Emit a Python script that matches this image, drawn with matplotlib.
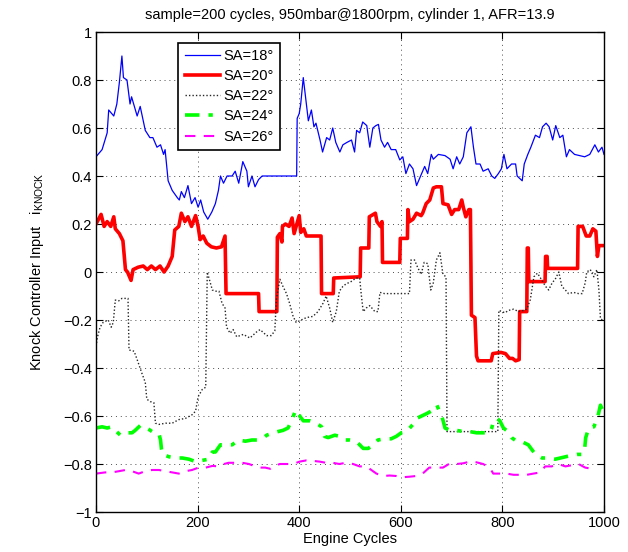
import matplotlib
matplotlib.use("Agg")
import matplotlib.pyplot as plt

plt.rcParams['font.family'] = ['Liberation Sans', 'DejaVu Sans']
plt.rcParams['mathtext.default'] = 'regular'

# ---- data -------------------------------------------------------------
sa18_x = [0, 12, 22, 25, 35, 41, 46, 51, 54, 61, 67, 70, 81, 87, 97, 106, 112, 120, 127, 133,
          136, 142, 150, 160, 164, 168, 174, 181, 188, 195, 201, 206, 212, 220, 228, 235, 241,
          245, 251, 258, 268, 274, 281, 289, 297, 300, 307, 313, 320, 327, 395, 396, 400, 403,
          408, 413, 418, 424, 429, 433, 441, 446, 454, 460, 466, 472, 480, 486, 494, 503, 509,
          513, 519, 525, 533, 539, 545, 551, 556, 561, 568, 574, 581, 590, 598, 604, 610, 617,
          624, 631, 637, 647, 653, 660, 664, 674, 687, 697, 703, 710, 716, 723, 730, 738, 743,
          748, 756, 762, 772, 779, 785, 792, 798, 803, 809, 818, 826, 829, 839, 843, 850, 856,
          865, 873, 879, 886, 892, 899, 905, 913, 919, 926, 932, 942, 952, 962, 972, 982, 989,
          996, 1000]
sa18_y = [0.48, 0.51, 0.58, 0.675, 0.65, 0.70, 0.79, 0.90, 0.81, 0.80, 0.70, 0.73, 0.65, 0.69,
          0.59, 0.56, 0.56, 0.52, 0.53, 0.49, 0.51, 0.38, 0.34, 0.31, 0.30, 0.335, 0.31, 0.36,
          0.285, 0.31, 0.27, 0.30, 0.25, 0.22, 0.25, 0.285, 0.34, 0.40, 0.37, 0.40, 0.40, 0.42,
          0.37, 0.46, 0.42, 0.355, 0.40, 0.355, 0.385, 0.40, 0.40, 0.64, 0.66, 0.70, 0.81, 0.72,
          0.63, 0.675, 0.605, 0.62, 0.55, 0.50, 0.56, 0.55, 0.60, 0.54, 0.50, 0.53, 0.54, 0.55,
          0.50, 0.59, 0.58, 0.625, 0.61, 0.52, 0.60, 0.61, 0.615, 0.55, 0.52, 0.54, 0.51, 0.51,
          0.467, 0.48, 0.41, 0.45, 0.43, 0.36, 0.39, 0.44, 0.41, 0.49, 0.47, 0.49, 0.485, 0.47,
          0.43, 0.48, 0.45, 0.48, 0.58, 0.605, 0.52, 0.45, 0.45, 0.42, 0.43, 0.40, 0.39, 0.41,
          0.43, 0.49, 0.43, 0.45, 0.45, 0.40, 0.38, 0.45, 0.49, 0.52, 0.57, 0.56, 0.605, 0.62,
          0.605, 0.55, 0.61, 0.56, 0.57, 0.48, 0.51, 0.49, 0.485, 0.48, 0.49, 0.53, 0.50, 0.52,
          0.49]

sa20_x = [0, 10, 16, 22, 29, 35, 38, 46, 53, 58, 62, 69, 73, 83, 93, 101, 109, 117, 126, 134,
          142, 150, 155, 163, 168, 175, 181, 188, 196, 201, 205, 211, 218, 227, 237, 247, 254,
          256, 320, 321, 356, 357, 362, 366, 367, 373, 380, 386, 390, 400, 403, 409, 414, 443,
          444, 467, 468, 520, 521, 537, 538, 550, 553, 560, 563, 564, 598, 599, 613, 614, 617,
          624, 631, 640, 643, 650, 657, 664, 670, 680, 683, 693, 700, 706, 714, 720, 723, 728,
          734, 737, 739, 746, 749, 752, 778, 781, 797, 806, 814, 820, 826, 833, 834, 848, 849,
          851, 852, 884, 885, 888, 889, 948, 949, 958, 965, 972, 978, 984, 987, 990, 1000]
sa20_y = [0.20, 0.24, 0.19, 0.21, 0.19, 0.23, 0.18, 0.16, 0.13, 0.01, 0.0, -0.035, 0.01, 0.02,
          0.025, 0.01, 0.025, 0.01, 0.025, 0.0, 0.025, 0.065, 0.175, 0.19, 0.245, 0.21, 0.23,
          0.19, 0.235, 0.19, 0.135, 0.15, 0.12, 0.105, 0.10, 0.105, 0.15, -0.09, -0.09, -0.165,
          -0.165, 0.145, 0.16, 0.125, 0.19, 0.20, 0.19, 0.225, 0.16, 0.235, 0.165, 0.18, 0.15,
          0.15, -0.09, -0.09, -0.025, -0.02, 0.10, 0.10, 0.23, 0.245, 0.21, 0.19, 0.21, 0.04,
          0.04, 0.14, 0.14, 0.26, 0.21, 0.22, 0.245, 0.235, 0.245, 0.285, 0.30, 0.35, 0.355,
          0.355, 0.285, 0.28, 0.24, 0.26, 0.26, 0.30, 0.27, 0.23, 0.26, 0.26, -0.18, -0.19,
          -0.35, -0.37, -0.37, -0.34, -0.335, -0.34, -0.36, -0.36, -0.37, -0.365, -0.165,
          -0.165, 0.10, 0.10, -0.04, -0.04, 0.065, 0.065, 0.015, 0.015, 0.19, 0.19, 0.15, 0.15,
          0.18, 0.17, 0.065, 0.11, 0.11]

sa22_x = [0, 3, 8, 14, 24, 30, 34, 38, 45, 51, 58, 63, 65, 75, 81, 90, 97, 100, 107, 114, 117,
          124, 137, 150, 163, 176, 189, 196, 201, 209, 216, 219, 223, 229, 235, 242, 248, 254,
          257, 264, 270, 277, 290, 303, 316, 323, 336, 345, 352, 355, 362, 368, 375, 381, 388,
          394, 404, 414, 427, 437, 447, 453, 460, 466, 473, 479, 486, 492, 502, 512, 519, 522,
          526, 532, 539, 549, 555, 559, 568, 578, 591, 604, 617, 620, 627, 633, 640, 646, 653,
          659, 664, 670, 677, 683, 689, 691, 720, 750, 770, 791, 793, 805, 812, 822, 832, 842,
          848, 855, 862, 869, 875, 885, 891, 898, 904, 911, 917, 924, 930, 940, 950, 957, 963,
          966, 973, 980, 986, 990, 993, 997]
sa22_y = [-0.31, -0.27, -0.23, -0.21, -0.20, -0.23, -0.21, -0.117, -0.12, -0.11, -0.11, -0.11,
          -0.325, -0.33, -0.365, -0.42, -0.46, -0.53, -0.54, -0.545, -0.63, -0.635, -0.63,
          -0.63, -0.615, -0.61, -0.595, -0.58, -0.52, -0.49, -0.48, 0.0, -0.03, -0.075, -0.08,
          -0.08, -0.13, -0.15, -0.23, -0.255, -0.24, -0.27, -0.26, -0.275, -0.25, -0.24, -0.265,
          -0.265, -0.245, -0.115, -0.03, -0.06, -0.09, -0.13, -0.185, -0.21, -0.20, -0.19,
          -0.185, -0.165, -0.13, -0.10, -0.15, -0.21, -0.165, -0.08, -0.06, -0.05, -0.04,
          -0.025, -0.025, -0.09, -0.165, -0.15, -0.14, -0.165, -0.165, -0.085, -0.09, -0.09,
          -0.09, -0.09, -0.09, 0.05, 0.05, 0.02, -0.01, 0.04, 0.035, -0.075, -0.045, 0.05, 0.08,
          -0.01, -0.02, -0.665, -0.665, -0.665, -0.665, -0.665, -0.16, -0.17, -0.16, -0.155,
          -0.165, -0.16, -0.155, -0.115, -0.02, -0.005, -0.025, -0.06, -0.075, -0.045, -0.03,
          0.0, -0.06, -0.075, -0.09, -0.085, -0.09, -0.09, -0.045, 0.0, 0.01, -0.02, 0.01,
          -0.075, -0.195, -0.20]

sa24_x = [0, 12, 22, 31, 38, 48, 58, 71, 77, 87, 97, 107, 114, 124, 127, 129, 131, 144, 157,
          170, 183, 196, 209, 222, 229, 235, 245, 255, 268, 281, 294, 307, 320, 330, 336, 349,
          358, 368, 378, 385, 393, 401, 408, 421, 434, 444, 450, 457, 470, 480, 490, 499, 512,
          526, 536, 545, 555, 568, 581, 591, 601, 611, 624, 631, 641, 651, 664, 671, 677, 683,
          687, 697, 710, 723, 736, 749, 762, 775, 779, 782, 789, 795, 802, 808, 818, 828, 841,
          851, 858, 865, 878, 891, 904, 914, 924, 934, 947, 957, 962, 964, 970, 980, 987, 993,
          997, 1000]
sa24_y = [-0.65, -0.645, -0.65, -0.645, -0.66, -0.68, -0.67, -0.67, -0.66, -0.64, -0.645,
          -0.66, -0.67, -0.675, -0.70, -0.74, -0.76, -0.77, -0.775, -0.775, -0.78, -0.79,
          -0.785, -0.78, -0.75, -0.75, -0.72, -0.72, -0.72, -0.70, -0.705, -0.70, -0.70, -0.69,
          -0.68, -0.67, -0.665, -0.66, -0.65, -0.62, -0.575, -0.60, -0.62, -0.62, -0.63, -0.645,
          -0.685, -0.69, -0.68, -0.685, -0.70, -0.70, -0.705, -0.735, -0.735, -0.72, -0.70,
          -0.695, -0.695, -0.685, -0.67, -0.665, -0.635, -0.61, -0.60, -0.59, -0.575, -0.555,
          -0.585, -0.617, -0.65, -0.66, -0.66, -0.665, -0.665, -0.67, -0.67, -0.67, -0.65,
          -0.625, -0.61, -0.62, -0.65, -0.66, -0.69, -0.705, -0.71, -0.72, -0.74, -0.76, -0.775,
          -0.775, -0.78, -0.775, -0.77, -0.765, -0.76, -0.76, -0.735, -0.69, -0.65, -0.645,
          -0.61, -0.555, -0.575, -0.58]

sa26_x = [0, 18, 31, 45, 58, 71, 84, 97, 110, 124, 137, 150, 163, 176, 189, 202, 216, 229, 242,
          252, 261, 274, 288, 301, 314, 323, 333, 343, 349, 362, 375, 388, 401, 414, 427, 440,
          453, 466, 479, 492, 506, 519, 532, 542, 552, 565, 578, 591, 604, 617, 630, 643, 656,
          670, 683, 697, 710, 723, 736, 749, 762, 775, 782, 795, 808, 822, 835, 848, 861, 875,
          884, 897, 910, 924, 937, 950, 963, 976]
sa26_y = [-0.84, -0.835, -0.835, -0.83, -0.825, -0.83, -0.84, -0.83, -0.825, -0.825, -0.83,
          -0.835, -0.84, -0.83, -0.825, -0.815, -0.815, -0.808, -0.81, -0.80, -0.795, -0.795,
          -0.795, -0.80, -0.81, -0.815, -0.815, -0.82, -0.81, -0.80, -0.80, -0.80, -0.79,
          -0.785, -0.787, -0.79, -0.795, -0.795, -0.80, -0.795, -0.80, -0.81, -0.81, -0.825,
          -0.84, -0.85, -0.848, -0.85, -0.855, -0.853, -0.85, -0.84, -0.815, -0.815, -0.815,
          -0.797, -0.80, -0.797, -0.79, -0.793, -0.80, -0.815, -0.84, -0.84, -0.84, -0.845,
          -0.845, -0.845, -0.84, -0.835, -0.81, -0.81, -0.80, -0.81, -0.805, -0.80, -0.815,
          -0.82]

x_ticks = [0, 200, 400, 600, 800, 1000]
y_ticks = [-1, -0.8, -0.6, -0.4, -0.2, 0, 0.2, 0.4, 0.6, 0.8, 1]
y_tick_labels = ['\u22121', '\u22120.8', '\u22120.6', '\u22120.4', '\u22120.2', '0',
                 '0.2', '0.4', '0.6', '0.8', '1']

# ---- figure -----------------------------------------------------------
fig = plt.figure(figsize=(6.28, 5.52), dpi=100)
ax = fig.add_axes([96 / 628, 40 / 552, 508 / 628, 480 / 552])

ax.plot(sa18_x, sa18_y, color=(0, 0, 1), lw=0.9, label='SA=18\u00b0')
ax.plot(sa20_x, sa20_y, color=(1, 0, 0), lw=2.6, label='SA=20\u00b0')
ax.plot(sa22_x, sa22_y, color='0.15', lw=1.0, ls=(0, (1, 1.5)), label='SA=22\u00b0')
ax.plot(sa24_x, sa24_y, color=(0, 1, 0), lw=2.6, ls=(0, (4, 2.5, 1.2, 2.5)), label='SA=24\u00b0')
ax.plot(sa26_x, sa26_y, color=(1, 0, 1), lw=1.5, ls=(0, (5, 4)), label='SA=26\u00b0')

ax.set_xlim(0, 1000)
ax.set_ylim(-1, 1)
ax.set_xticks(x_ticks)
ax.set_yticks(y_ticks)
ax.set_yticklabels(y_tick_labels)
ax.tick_params(direction='in', length=5, width=0.8, top=True, right=True,
               labelsize=10.5, pad=3)
ax.grid(True, ls=(0, (1, 4)), color='0.3', lw=0.7)
for s in ax.spines.values():
    s.set_linewidth(1.0)

ax.set_title('sample=200 cycles, 950mbar@1800rpm, cylinder 1, AFR=13.9',
             fontsize=10.5, pad=9)
ax.set_xlabel('Engine Cycles', fontsize=10.5, labelpad=1)
ax.set_ylabel('Knock Controller Input   $i_{KNOCK}$', fontsize=10.5, labelpad=12)

leg = ax.legend(loc='upper left', bbox_to_anchor=(0.162, 0.978), fontsize=10.5,
                frameon=True, fancybox=False, framealpha=1, edgecolor='k',
                handlelength=2.4, handletextpad=0.25, borderpad=0.45,
                labelspacing=0.42, borderaxespad=0)
leg.get_frame().set_linewidth(1.2)

fig.savefig('out.png', dpi=100)
